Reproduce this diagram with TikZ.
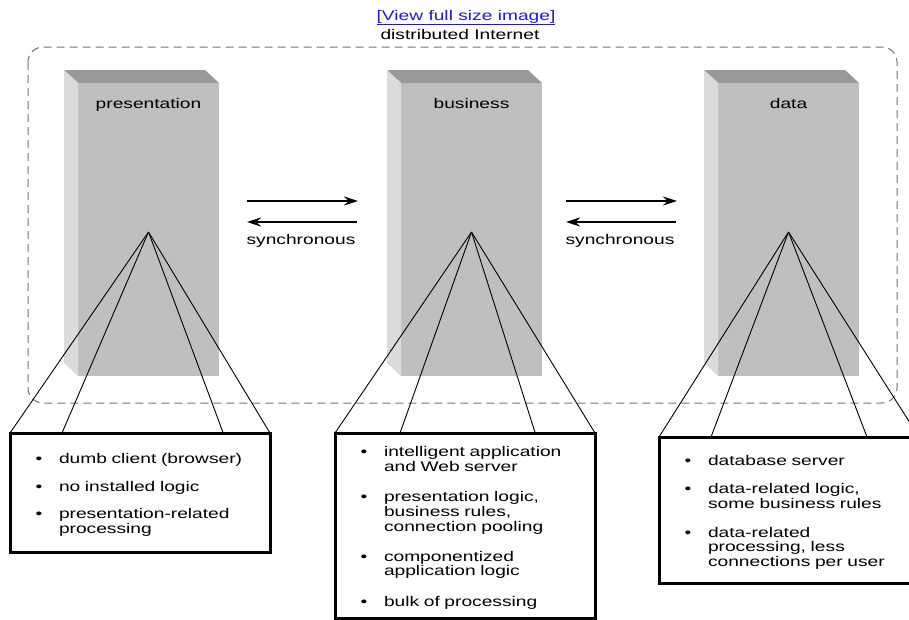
\documentclass[tikz,border=0pt]{standalone}
\usepackage{fontspec}
\setmainfont{Liberation Sans}[FakeStretch=1.37]
\usepackage{enumitem}
\usetikzlibrary{calc, positioning}
\usetikzlibrary{arrows.meta}

\definecolor{pillarfront}{gray}{0.75}
\definecolor{pillartop}{gray}{0.6}
\definecolor{pillarside}{gray}{0.86}
\definecolor{linkblue}{RGB}{30,30,190}
\setlist[itemize]{label=\textbullet, leftmargin=44pt, labelsep=16.6pt,
  itemsep=14pt, topsep=0pt, partopsep=0pt, parsep=0pt}

\begin{document}
\begin{tikzpicture}[x=1pt,y=-1pt,
  every node/.style={font=\fontsize{14}{14.7}\selectfont},
  pillar/.style={fill=pillarfront, minimum width=141pt, minimum height=293pt,
    anchor=north west, inner sep=0pt, outer sep=0pt},
  tierbox/.style={draw, line width=3pt, fill=white, anchor=north west,
    text width=250pt, inner xsep=5pt, inner ysep=0pt, outer sep=0pt, align=left},
  fanline/.style={line width=0.9pt},
  syncarrow/.style={line width=1.3pt, -{Stealth[length=14pt,width=9pt]}}]
\useasboundingbox (0,0) rectangle (909,619);
\clip (0,0) rectangle (909,619);

\node[anchor=base, text=linkblue] (viewlink) at (466,20) {\underline{[View full size image]}};
\node[anchor=base] (nettitle) at (460,39) {distributed Internet};

\draw[black!55, line width=1pt, dash pattern=on 8pt off 5pt, rounded corners=15pt]
  (28,47) rectangle (897,403);

\foreach \name/\px/\label in {pres/78/presentation, bus/401/business, data/718/data}{
  \node[pillar] (\name) at (\px,83) {};
  \fill[pillartop] (\name.north west) -- ++(-14,-13) -- ++(141,0) -- (\name.north east) -- cycle;
  \fill[pillarside] (\name.north west) -- ++(-14,-13) -- ++(0,293) -- (\name.south west) -- cycle;
  \node[anchor=base] (\name title) at ($(\name.north)+(0,25)$) {\label};
  \coordinate (\name apex) at ($(\name.north)+(0,149)$);
}

\foreach \name/\lx in {pb/247, bd/566}{
  \coordinate (\name fwdtail) at (\lx,201);
  \coordinate (\name fwdhead) at (\lx+111,201);
  \coordinate (\name backtail) at (\lx+110,222);
  \coordinate (\name backhead) at (\lx,222);
  \draw[syncarrow] (\name fwdtail) -- (\name fwdhead);
  \draw[syncarrow] (\name backtail) -- (\name backhead);
  \node[anchor=base] (\name sync) at (\lx+54,244) {synchronous};
}

\node[tierbox, minimum height=119pt] (presbox) at (10,433) {%
  \begin{itemize}[itemsep=13pt]
    \item dumb client (browser)
    \item no installed logic
    \item presentation-related\\ processing
  \end{itemize}};
\node[tierbox, minimum height=185pt] (busbox) at (335,433) {%
  \begin{itemize}[itemsep=15.5pt]
    \item intelligent application\\ and Web server
    \item presentation logic,\\ business rules,\\ connection pooling
    \item componentized\\ application logic
    \item bulk of processing
  \end{itemize}};
\node[tierbox, minimum height=146pt] (databox) at (659,437) {%
  \begin{itemize}
    \item database server
    \item data-related logic,\\ some business rules
    \item data-related\\ processing, less\\ connections per user
  \end{itemize}};

\foreach \name/\fa/\fb in {pres/0.2/0.82, bus/0.25/0.77, data/0.2/0.8}{
  \foreach \f in {0,\fa,\fb,1}{
    \draw[fanline] (\name apex) -- ($(\name box.north west)!\f!(\name box.north east)$);
  }
}
\end{tikzpicture}
\end{document}
